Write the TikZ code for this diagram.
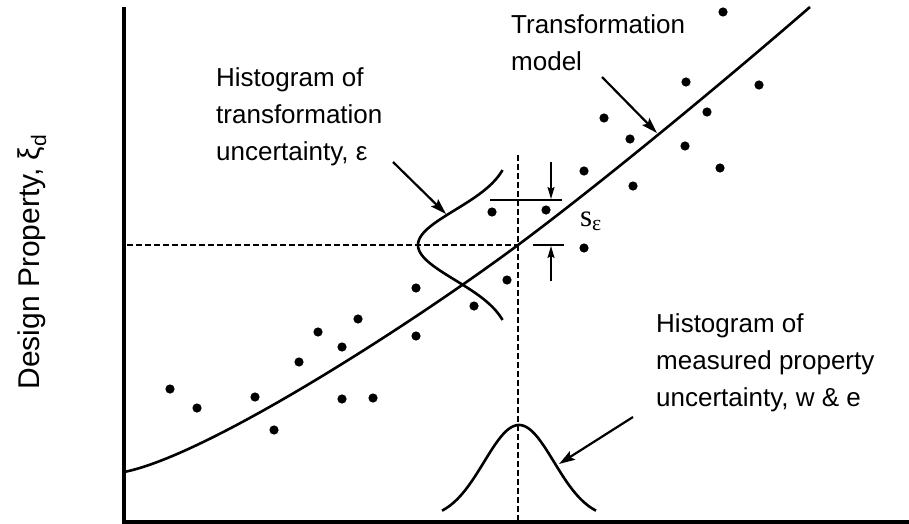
\documentclass[tikz,border=0pt]{standalone}
\usepackage{fontspec}
\setmainfont{Liberation Sans}
\newfontfamily\serifgr{Liberation Serif}
\usetikzlibrary{arrows.meta}
\begin{document}
\begin{tikzpicture}[x=1pt,y=-1pt,
  lbl/.style={font=\fontsize{26}{37}\selectfont, align=left, inner sep=0pt, anchor=north west},
  axisline/.style={line width=3.2pt},
  guide/.style={line width=2.4pt, dash pattern=on 6pt off 3pt},
  modelline/.style={line width=2.6pt, line join=round},
  bell/.style={line width=2.6pt, line join=round},
  pointer/.style={line width=2.2pt, -{Stealth[length=16pt,width=10pt,inset=3pt]}},
  smallpointer/.style={line width=1.8pt, -{Stealth[length=12pt,width=7pt,inset=2pt]}},
  tick/.style={line width=2pt},
  dot/.style={fill=black}]
\useasboundingbox (0,0) rectangle (909,524);

% axes
\coordinate (ytop) at (124,7);
\coordinate (origin) at (124,522);
\coordinate (xend) at (909,522);
\draw[axisline] (ytop) -- (origin) -- (xend);

% y label
\node[font=\fontsize{30}{32}\selectfont, rotate=90, inner sep=0pt] (ylabel) at (32,262) {Design Property, ξ\textsubscript{d}};

% guide lines
\coordinate (cross) at (518,245);
\coordinate (hstart) at (127,245);
\coordinate (vtop) at (518,155);
\coordinate (vbot) at (518,522);
\draw[guide] (hstart) -- (cross);
\draw[guide] (vtop) -- (vbot);

% data points
\foreach \p in {(170,389),(197,408),(255,397),(274,430),(299,362),(318,332),(342,347),(358,319),
  (342,399),(373,398),(416,288),(416,336),(474,306),(507,280),(492,212),(546,210),
  (584,171),(584,248),(604,118),(630,139),(633,186),(686,82),(685,146),(707,112),
  (720,168),(723,12),(759,85)}
  \fill[dot] \p circle (4.6);

% transformation model curve
\coordinate (mstart) at (124,472);
\coordinate (mend) at (810,7);
\draw[modelline] (mstart) .. controls (210,455) and (420,318) .. (cross)
  .. controls (600,184) and (720,85) .. (mend);

% histogram of transformation uncertainty (sideways)
\draw[bell] plot[domain=-75:75, samples=80] ({512-94*exp(-((\x)*(\x))/2450)},{245+\x});

% histogram of measured property uncertainty
\draw[bell] plot[domain=-77:77, samples=80] ({519+\x},{519-94*exp(-((\x)*(\x))/2450)});

% s_epsilon marks
\coordinate (tl1) at (490,200); \coordinate (tl2) at (562,200);
\coordinate (bl1) at (533,245); \coordinate (bl2) at (564,245);
\draw[tick] (tl1) -- (tl2);
\draw[tick] (bl1) -- (bl2);
\coordinate (ta) at (551,162); \coordinate (tb) at (551,199);
\coordinate (ba) at (551,281); \coordinate (bb) at (551,246);
\draw[smallpointer] (ta) -- (tb);
\draw[smallpointer] (ba) -- (bb);
\node[inner sep=0pt, font=\serifgr\fontsize{31}{31}\selectfont] (se) at (591,221) {s\textsubscript{ε}};

% labels
\node[lbl] (lblA) at (216,67) {Histogram of\\transformation\\uncertainty, ε};
\node[lbl] (lblB) at (511,14) {Transformation\\model};
\node[lbl] (lblC) at (656,313) {Histogram of\\measured property\\uncertainty, w \& e};

% pointers
\coordinate (pA1) at (393,162); \coordinate (pA2) at (446,214);
\coordinate (pB1) at (602,77);  \coordinate (pB2) at (657,133);
\coordinate (pC1) at (633,417); \coordinate (pC2) at (559,464);
\draw[pointer] (pA1) -- (pA2);
\draw[pointer] (pB1) -- (pB2);
\draw[pointer] (pC1) -- (pC2);
\end{tikzpicture}
\end{document}
